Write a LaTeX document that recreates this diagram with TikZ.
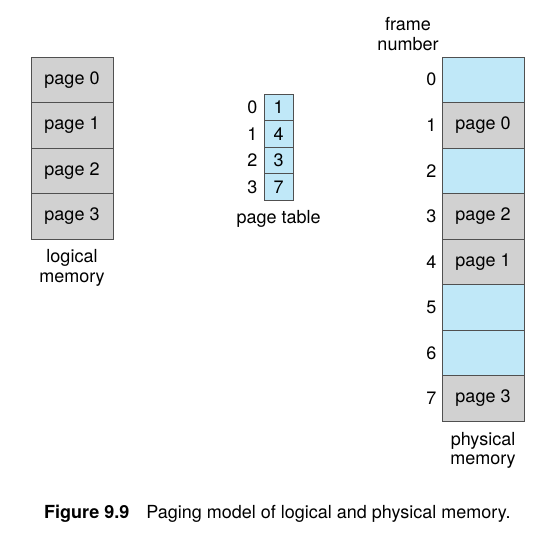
\documentclass[tikz,border=0pt]{standalone}
\usepackage{fontspec}
\setmainfont{TeX Gyre Heros}
\definecolor{cellgray}{RGB}{209,209,209}
\definecolor{cellblue}{RGB}{192,232,248}
\definecolor{rulegray}{RGB}{80,80,80}
\tikzset{
  cell/.style={draw=rulegray,line width=0.9pt,inner sep=0pt,minimum width=82pt,minimum height=45.5pt},
  pagecell/.style={cell,fill=cellgray},
  freecell/.style={cell,fill=cellblue},
  tablecell/.style={draw=rulegray,line width=0.9pt,fill=cellblue,inner sep=0pt,minimum width=29.3pt,minimum height=26.5pt},
  lbl/.style={inner sep=0pt,align=center}
}
\begin{document}
\begin{tikzpicture}[x=1pt,y=-1pt,font=\fontsize{18}{19.5}\selectfont]
\useasboundingbox (0,0) rectangle (551,536);
%
\def\lx{72}
\def\tx{278.7}
\def\px{483}
%
% logical memory
\foreach \i in {0,...,3}
  \node[pagecell] (log\i) at (\lx,79.75+45.5*\i) {page \i};
\node[lbl] (logtext) at (\lx,268) {logical\\memory};
%
% page table
\foreach \i/\f in {0/1,1/4,2/3,3/7}{
  \node[tablecell] (pt\i) at (\tx,107.3+26.5*\i) {\f};
  \node[lbl,anchor=east] (ptidx\i) at ([xshift=-6pt]pt\i.west) {\i};
}
\node[lbl] (pttext) at (\tx,219) {page table};
%
% physical memory
\foreach \i/\s/\t in {0/freecell/,1/pagecell/page 0,2/freecell/,3/pagecell/page 2,
                      4/pagecell/page 1,5/freecell/,6/freecell/,7/pagecell/page 3}{
  \node[\s] (phy\i) at (\px,79.75+45.5*\i) {\t};
  \node[lbl,anchor=east] (phyidx\i) at ([xshift=-5pt]phy\i.west) {\i};
}
\node[lbl] (frametext) at (408,34) {frame\\number};
\node[lbl] (phytext) at (\px,450.5) {physical\\memory};
%
% caption
\node[lbl,anchor=west] (caption) at (44,514) {\textbf{Figure 9.9}\hspace{17pt}Paging model of logical and physical memory.};
%
\end{tikzpicture}
\end{document}
